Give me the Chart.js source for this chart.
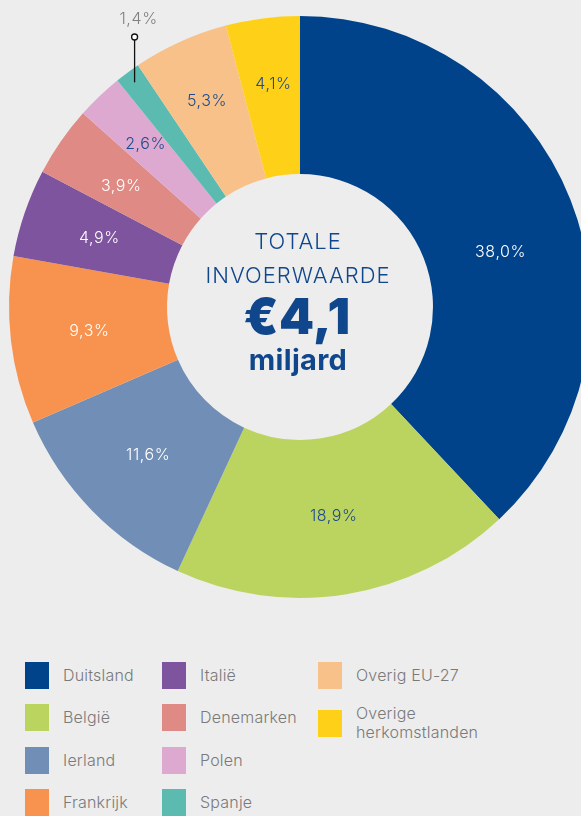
<!DOCTYPE html>
<html lang="nl">
<head>
<meta charset="utf-8">
<title>Invoerwaarde per herkomstland</title>
<script src="https://cdn.jsdelivr.net/npm/chart.js@4.4.1/dist/chart.umd.min.js"></script>
<style>
  html, body {
    margin: 0;
    padding: 0;
    width: 581px;
    height: 816px;
    overflow: hidden;
    background: #ededed;
    font-family: Inter, "Open Sans", sans-serif;
  }
  #wrap {
    position: absolute;
    left: 0;
    top: 0;
    width: 600px;
    height: 614px;
  }
  .legend {
    position: absolute;
    left: 0;
    top: 0;
  }
  .item {
    position: absolute;
    display: flex;
    align-items: center;
    white-space: nowrap;
    color: #7a7a7a;
    font-size: 16px;
    font-weight: 300;
    letter-spacing: 0.2px;
    line-height: 19px;
  }
  .swatch {
    width: 24px;
    height: 27px;
    margin-right: 14px;
    flex: none;
  }
</style>
</head>
<body>
<div id="wrap"><canvas id="donut" width="600" height="614"></canvas></div>
<div class="legend" id="legend"></div>

<script>
// invoer per land van herkomst, aandeel in %
const countries = ['Duitsland', 'België', 'Ierland', 'Frankrijk', 'Italië', 'Denemarken', 'Polen', 'Spanje', 'Overig EU-27', 'Overige herkomstlanden'];
const shares = [38.0, 18.9, 11.6, 9.3, 4.9, 3.9, 2.6, 1.4, 5.3, 4.1];
const colors = ['#01438a', '#bbd35f', '#718eb6', '#f8934f', '#7d549d', '#df8a84', '#dea9d0', '#5cbbb1', '#f8c189', '#fed118'];
const labelColors = ['#ffffff', '#1d4a8c', '#ffffff', '#ffffff', '#ffffff', '#ffffff', '#1d4a8c', '#808080', '#1d4a8c', '#1d4a8c'];

// legend order: three columns, filled top to bottom
const legendColumns = [[0, 1, 2, 3], [4, 5, 6, 7], [8, 9]];

const fmt = v => v.toFixed(1).replace('.', ',') + '%';

// small tweaks to where a few value labels sit inside the ring
const labelNudge = { 0: { dr: -4, da: 0.11 }, 5: { dr: 4, da: -0.01 }, 6: { dr: 12, da: 0 }, 8: { dr: 14, da: 0 }, 9: { dr: 12, da: 0.01 } };

const sliceLabels = {
  id: 'sliceLabels',
  afterDatasetsDraw(chart) {
    const ctx = chart.ctx;
    const arcs = chart.getDatasetMeta(0).data;
    ctx.save();
    ctx.font = '300 16px Inter, "Open Sans", sans-serif';
    ctx.letterSpacing = '0.6px';
    ctx.textAlign = 'center';
    ctx.textBaseline = 'middle';
    arcs.forEach((arc, i) => {
      const p = arc.getProps(['x', 'y', 'startAngle', 'endAngle', 'innerRadius', 'outerRadius'], true);
      const nudge = labelNudge[i] || { dr: 0, da: 0 };
      const mid = (p.startAngle + p.endAngle) / 2 + nudge.da;
      ctx.fillStyle = labelColors[i];
      if (i === 7) {
        // thin slice: value sits above the ring with a pin
        const px = p.x + Math.cos(mid) * (p.outerRadius - 12);
        const py = p.y + Math.sin(mid) * (p.outerRadius - 12);
        const top = 37;
        ctx.strokeStyle = '#111';
        ctx.lineWidth = 1.3;
        ctx.beginPath();
        ctx.moveTo(px, py);
        ctx.lineTo(px, top + 3);
        ctx.stroke();
        ctx.beginPath();
        ctx.arc(px, top, 3, 0, Math.PI * 2);
        ctx.fillStyle = '#ffffff';
        ctx.fill();
        ctx.stroke();
        ctx.fillStyle = labelColors[i];
        ctx.fillText(fmt(shares[i]), px + 4, 19);
        return;
      }
      const r = (p.innerRadius + p.outerRadius) / 2 + nudge.dr;
      ctx.fillText(fmt(shares[i]), p.x + Math.cos(mid) * r, p.y + Math.sin(mid) * r);
    });
    ctx.restore();
  }
};

const centerText = {
  id: 'centerText',
  afterDraw(chart) {
    const ctx = chart.ctx;
    const arc = chart.getDatasetMeta(0).data[0];
    const cx = arc.x, cy = arc.y;
    ctx.save();
    ctx.fillStyle = '#0f468c';
    ctx.textAlign = 'center';
    ctx.textBaseline = 'middle';
    ctx.font = '300 22px Inter, "Open Sans", sans-serif';
    ctx.letterSpacing = '1px';
    ctx.fillText('TOTALE', cx - 2, cy - 65);
    ctx.fillText('INVOERWAARDE', cx - 2, cy - 31);
    ctx.letterSpacing = '0.5px';
    ctx.font = '900 50px Inter, "Open Sans", sans-serif';
    ctx.fillText('€4,1', cx - 3, cy + 12);
    ctx.letterSpacing = '0.3px';
    ctx.font = '700 29px Inter, "Open Sans", sans-serif';
    ctx.fillText('miljard', cx - 2, cy + 54);
    ctx.restore();
  }
};

new Chart(document.getElementById('donut'), {
  type: 'doughnut',
  data: {
    labels: countries,
    datasets: [{
      data: shares,
      backgroundColor: colors,
      borderWidth: 0
    }]
  },
  options: {
    responsive: false,
    animation: false,
    cutout: '45.7%',
    layout: { padding: 9 },
    plugins: {
      legend: { display: false },
      tooltip: { enabled: false }
    }
  },
  plugins: [sliceLabels, centerText]
});

// legend built from the same arrays
const legendEl = document.getElementById('legend');
const colX = [25, 162, 318];
const rowY = [662, 704, 747, 789];
legendColumns.forEach((col, c) => {
  col.forEach((idx, r) => {
    const item = document.createElement('div');
    item.className = 'item';
    item.style.left = colX[c] + 'px';
    item.style.top = rowY[r] + 'px';
    const sw = document.createElement('span');
    sw.className = 'swatch';
    sw.style.background = colors[idx];
    const txt = document.createElement('span');
    txt.textContent = countries[idx];
    if (idx === 9) {
      txt.innerHTML = 'Overige<br>herkomstlanden';
    }
    item.appendChild(sw);
    item.appendChild(txt);
    legendEl.appendChild(item);
  });
});
</script>
</body>
</html>
